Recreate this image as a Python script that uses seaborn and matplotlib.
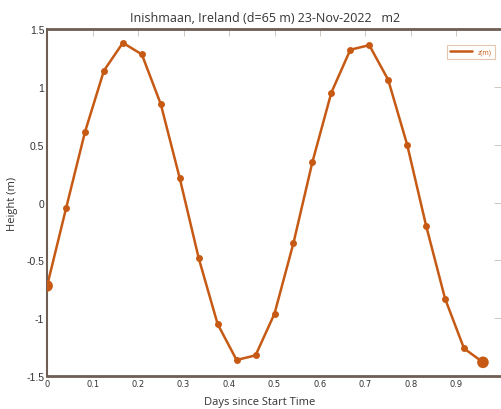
import numpy as np
import pandas as pd
import seaborn as sns
import matplotlib.pyplot as plt
from matplotlib.lines import Line2D

# hourly samples over one day
hours = np.arange(24)
height = [-0.72, -0.05, 0.61, 1.14, 1.38, 1.28, 0.85, 0.21,
          -0.48, -1.05, -1.36, -1.32, -0.96, -0.35, 0.35, 0.95,
          1.32, 1.36, 1.06, 0.50, -0.20, -0.83, -1.26, -1.38]
x_ticks = [0, 0.1, 0.2, 0.3, 0.4, 0.5, 0.6, 0.7, 0.8, 0.9]
y_ticks = [-1.5, -1, -0.5, 0, 0.5, 1, 1.5]

df = pd.DataFrame({"days": hours / 24, "z": height})
ends = df.iloc[[0, -1]]

sns.set_style("white")
plt.rcParams["font.family"] = ["Open Sans", "DejaVu Sans"]

line_col = "#c65a14"
spine_col = "#6e5e54"

fig = plt.figure(figsize=(5.01, 4.10), dpi=100)
ax = fig.add_axes([0.094, 0.080, 0.906, 0.847])

sns.lineplot(data=df, x="days", y="z", ax=ax, color=line_col, lw=1.8,
             marker="o", markersize=5, markeredgewidth=0, legend=False)
sns.scatterplot(data=ends, x="days", y="z", ax=ax, color=line_col, s=70,
                edgecolor="none", legend=False, zorder=5)

ax.set_xlim(0, 0.998)
ax.set_ylim(-1.5, 1.5)
ax.set_xticks(x_ticks)
ax.set_xticklabels([f"{v:g}" for v in x_ticks],
                   family=["Liberation Sans Narrow", "DejaVu Sans"], fontsize=6)
ax.set_yticks(y_ticks)
ax.set_yticklabels([f"{v:g}" for v in y_ticks],
                   family=["Liberation Sans", "DejaVu Sans"], fontsize=7.5)

ax.tick_params(direction="in", length=5, width=0.6, color="#c9bdb5",
               top=True, right=True, pad=2, labelcolor="#333333")
for s in ax.spines.values():
    s.set_color(spine_col)
    s.set_linewidth(1.0)
ax.spines["bottom"].set_linewidth(2.0)
ax.spines["top"].set_linewidth(2.0)
ax.spines["left"].set_linewidth(1.5)
ax.spines["right"].set_visible(False)

ax.set_title("Inishmaan, Ireland (d=65 m) 23-Nov-2022   m2", fontsize=9,
             color="#333333", pad=6, x=0.48)
ax.set_xlabel("Days since Start Time", fontsize=8, color="#333333")
ax.xaxis.set_label_coords(0.468, -0.058)
ax.set_ylabel("Height (m)", fontsize=8, color="#333333", labelpad=6)

handle = Line2D([], [], color=line_col, lw=1.8)
leg = ax.legend([handle], ["z(m)"], loc="upper right", fontsize=5,
                handlelength=3.2, frameon=True, fancybox=False, borderpad=0.5,
                bbox_to_anchor=(0.995, 0.965))
leg.get_frame().set_edgecolor("#e0b89a")
leg.get_frame().set_linewidth(0.8)
for t in leg.get_texts():
    t.set_color(line_col)

fig.savefig("out.png", dpi=100)
